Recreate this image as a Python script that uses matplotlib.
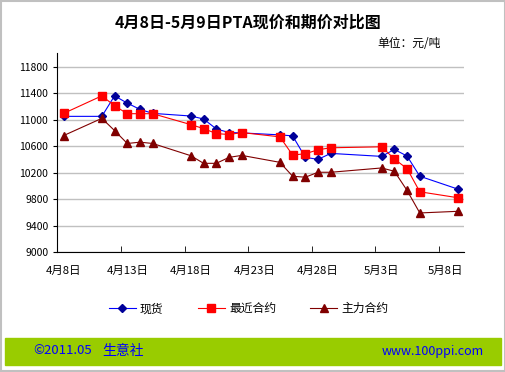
# PTA spot vs futures price, 4月8日 - 5月9日
import matplotlib
matplotlib.use('Agg')
import matplotlib.pyplot as plt
from matplotlib.patches import Rectangle
import pandas as pd

plt.rcParams['font.family'] = ['Noto Sans CJK SC', 'DejaVu Sans']

# Data (yuan / ton)
dates = ['2011-04-08', '2011-04-11', '2011-04-12', '2011-04-13', '2011-04-14', '2011-04-15',
         '2011-04-18', '2011-04-19', '2011-04-20', '2011-04-21', '2011-04-22',
         '2011-04-25', '2011-04-26', '2011-04-27', '2011-04-28', '2011-04-29',
         '2011-05-03', '2011-05-04', '2011-05-05', '2011-05-06', '2011-05-09']
spot = [11050, 11050, 11360, 11250, 11155, 11095,
        11055, 11010, 10860, 10805, 10800,
        10770, 10755, 10430, 10400, 10490,
        10445, 10550, 10450, 10145, 9950]
nearest = [11095, 11360, 11210, 11090, 11090, 11090,
           10925, 10865, 10790, 10775, 10805,
           10740, 10465, 10485, 10545, 10575,
           10590, 10405, 10260, 9910, 9820]
main = [10760, 11020, 10835, 10640, 10660, 10640,
        10455, 10340, 10340, 10430, 10460,
        10355, 10145, 10130, 10205, 10205,
        10270, 10220, 9930, 9590, 9615]
names = ['现货', '最近合约', '主力合约']
label_days = ['2011-04-08', '2011-04-13', '2011-04-18', '2011-04-23',
              '2011-04-28', '2011-05-03', '2011-05-08']

x = pd.to_datetime(dates)
labels = pd.to_datetime(label_days)

fig = plt.figure(figsize=(5.06, 3.72), dpi=100)
ax = fig.add_axes([0.1133, 0.3226, 0.8043, 0.5336])

ax.plot(x, spot, '-D', color='#0000FF', mfc='#000099', mec='#000099', ms=4.2, lw=0.8, label=names[0])
ax.plot(x, nearest, '-s', color='#FF0000', ms=5.3, lw=0.8, label=names[1])
ax.plot(x, main, '-^', color='#800000', ms=5.5, lw=0.8, label=names[2])

start = pd.Timestamp('2011-04-07 12:00')
end = pd.Timestamp('2011-05-09 12:00')
ax.set_xlim(start, end)
ax.set_ylim(9000, 12000)
ax.set_yticks(range(9000, 12000, 400))
ax.tick_params(axis='y', labelsize=7.5, length=3)
ax.grid(axis='y', color='#c0c0c0', lw=1)
ax.set_axisbelow(True)

ax.set_xticks(labels)
ax.set_xticklabels([f'{d.month}月{d.day}日' for d in labels])
ax.set_xticks(labels - pd.Timedelta(hours=12), minor=True)
ax.tick_params(axis='x', which='major', length=0, labelsize=8.2, pad=10)
ax.tick_params(axis='x', which='minor', length=4, direction='in')

for s in ['top', 'right']:
    ax.spines[s].set_visible(False)

ax.legend(loc='upper center', bbox_to_anchor=(0.47, -0.2), ncol=3, frameon=False,
          fontsize=8.5, columnspacing=2.9, handlelength=2.3, handletextpad=0.35)

fig.text(0.49, 0.94, '4月8日-5月9日PTA现价和期价对比图', ha='center', va='center',
         fontsize=11.5, fontweight='bold')
fig.text(0.872, 0.883, '单位：元/吨', ha='right', va='center', fontsize=8.5)

# footer band
fig.patches.append(Rectangle((5 / 506, 1 - 365 / 372), 496 / 506, 27 / 372,
                             transform=fig.transFigure, color='#99CC00', zorder=0))
fig.text(33 / 506, 1 - 351 / 372, '©2011.05', color='#0000FF', fontsize=9.5,
         va='center', ha='left')
fig.text(102 / 506, 1 - 351 / 372, '生意社', color='#0000FF', fontsize=10,
         va='center', ha='left')
fig.text(484 / 506, 1 - 351 / 372, 'www.100ppi.com', color='#0000FF', fontsize=9,
         va='center', ha='right')

# outer border
fig.patches.append(Rectangle((0.002, 0.003), 0.996, 0.994, transform=fig.transFigure,
                             fill=False, ec='#c0c0c0', lw=1.5))

fig.savefig('out.png', dpi=100)
